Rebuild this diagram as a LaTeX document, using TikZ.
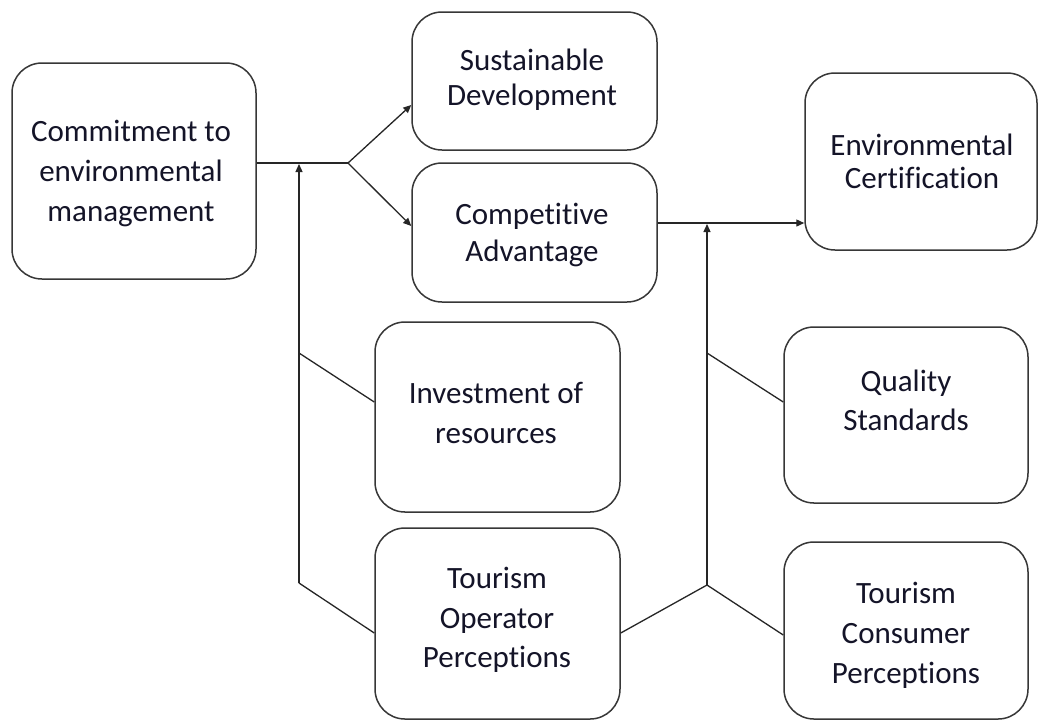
\documentclass[tikz,border=0pt]{standalone}
\usepackage{fontspec}
\setmainfont{Carlito}[Ligatures=NoCommon]
\usetikzlibrary{arrows.meta}
\definecolor{txtc}{RGB}{20,20,40}
\definecolor{edgec}{RGB}{55,55,55}
\begin{document}
\begin{tikzpicture}[x=1pt,y=-1pt,
  box/.style={draw=edgec, line width=1.5pt, rounded corners=30pt, fill=white, inner sep=0pt},
  txt/.style={align=center, text=txtc, inner sep=0pt},
  conn/.style={draw=black!85, line width=1.3pt},
  arr/.style={conn, -{Triangle[length=8pt,width=7pt]}}]
\useasboundingbox (0,0) rectangle (1040,721);
\fill[white] (0,0) rectangle (1040,721);

% boxes
\node[box, minimum width=244pt, minimum height=216pt] (cem) at (134,171) {};
\node[box, minimum width=245pt, minimum height=138pt] (sd)  at (534.5,81) {};
\node[box, minimum width=245pt, minimum height=139pt] (ca)  at (534.5,232.5) {};
\node[box, minimum width=232pt, minimum height=177pt] (ec)  at (921,161.5) {};
\node[box, minimum width=245pt, minimum height=190pt] (ir)  at (497.5,417) {};
\node[box, minimum width=245pt, minimum height=191pt] (top) at (497.5,623.5) {};
\node[box, minimum width=244pt, minimum height=176pt] (qs)  at (906,415) {};
\node[box, minimum width=244pt, minimum height=177pt] (tcp) at (906,630.5) {};

% texts
\node[txt, font=\fontsize{31}{40}\selectfont] (cem-t) at (131,173) {Commitment to\\environmental\\management};
\node[txt, font=\fontsize{31}{35}\selectfont] (sd-t) at (532,79.5) {Sustainable\\Development};
\node[txt, font=\fontsize{31}{37}\selectfont] (ca-t) at (532,234.5) {Competitive\\Advantage};
\node[txt, font=\fontsize{31}{33}\selectfont] (ec-t) at (922,161.5) {Environmental\\Certification};
\node[txt, font=\fontsize{31}{40}\selectfont] (ir-t) at (496,413) {Investment of\\resources};
\node[txt, font=\fontsize{31}{39.5}\selectfont] (top-t) at (497,620) {Tourism\\Operator\\Perceptions};
\node[txt, font=\fontsize{31}{39}\selectfont] (qs-t) at (906,400.5) {Quality\\Standards};
\node[txt, font=\fontsize{31}{40}\selectfont] (tcp-t) at (906,635) {Tourism\\Consumer\\Perceptions};

% junction coordinates
\coordinate (j1) at (348,163);
\coordinate (v1m) at (299,353);
\coordinate (v1b) at (299,583);
\coordinate (v2m) at (707,353);
\coordinate (v2b) at (707,585);
\coordinate (caout) at ([yshift=9.5pt]ca.east);

% connectors
\draw[conn] ([yshift=8pt]cem.east) -- (j1);
\draw[arr] (j1) -- ([yshift=-24pt]sd.west);
\draw[arr] (j1) -- ([yshift=6.5pt]ca.west);
\draw[arr, shorten >=1pt] (v1b) -- (v1b |- j1);
\draw[conn] (v1m) -- ([yshift=15pt]ir.west);
\draw[conn] (v1b) -- ([yshift=-9.5pt]top.west);
\draw[arr] (caout) -- (caout -| ec.west);
\draw[arr, shorten >=1pt] (v2b) -- (v2b |- caout);
\draw[conn] (v2m) -- ([yshift=13pt]qs.west);
\draw[conn] ([yshift=-9.5pt]top.east) -- (v2b) -- ([yshift=-4.5pt]tcp.west);
\end{tikzpicture}
\end{document}
